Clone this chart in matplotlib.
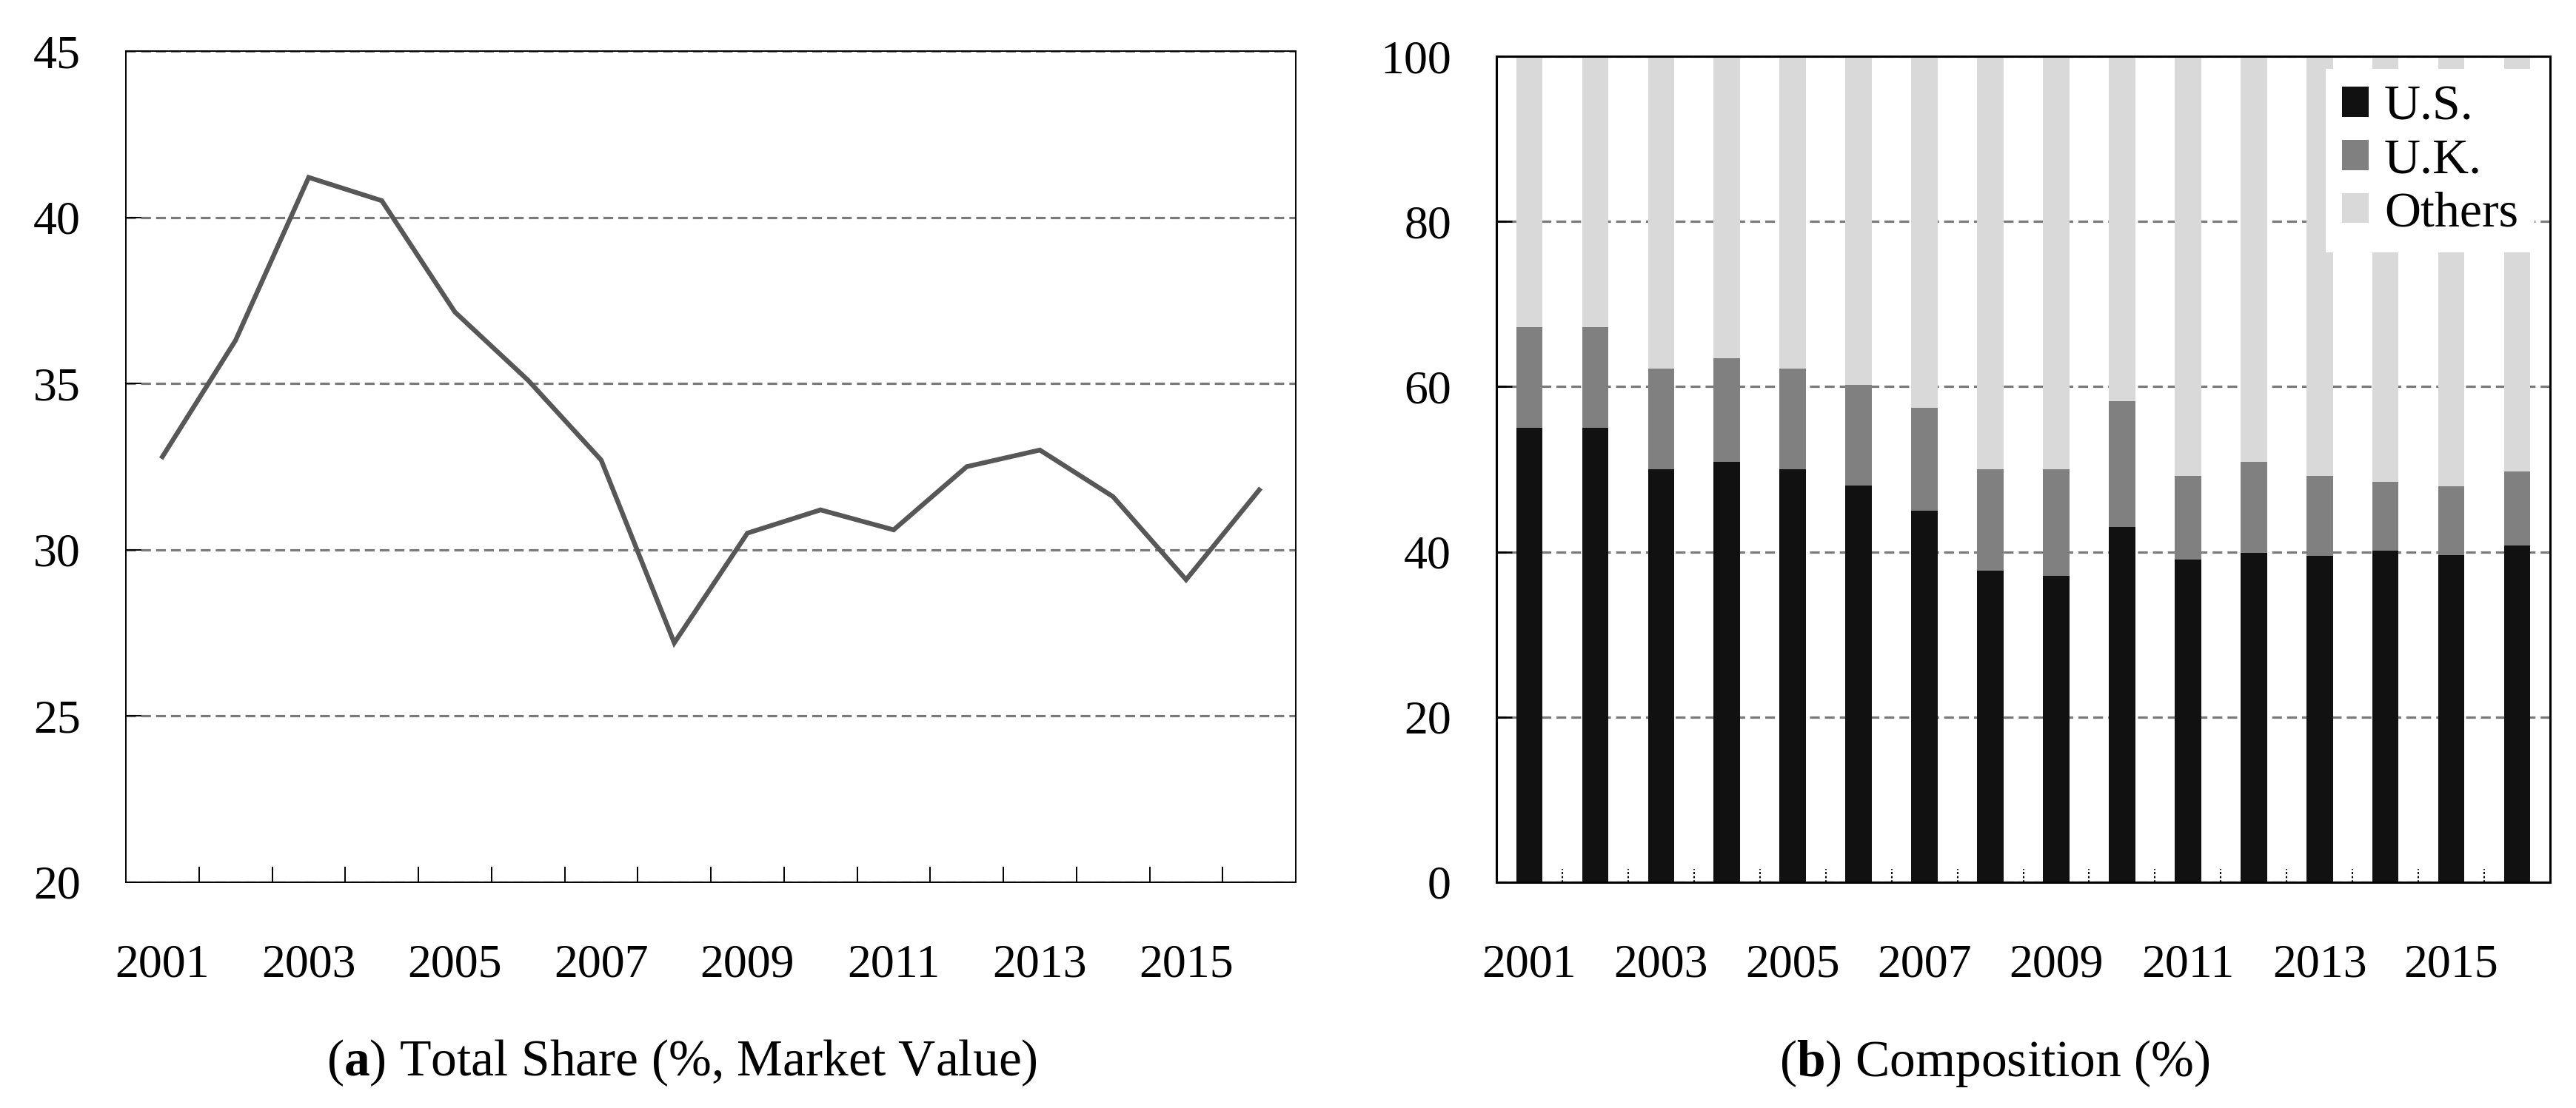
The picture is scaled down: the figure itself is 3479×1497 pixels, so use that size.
import numpy as np
import matplotlib.pyplot as plt

plt.rcParams['font.family'] = 'Liberation Serif'
plt.rcParams['mathtext.fontset'] = 'custom'
plt.rcParams['mathtext.rm'] = 'Liberation Serif'
plt.rcParams['mathtext.bf'] = 'Liberation Serif:bold'
plt.rcParams['lines.scale_dashes'] = False

# ---- data ----
years = np.arange(2001, 2017)
total_share = [32.8, 36.3, 41.2, 40.5, 37.15, 35.1, 32.7, 27.2,
               30.5, 31.2, 30.6, 32.5, 33.0, 31.6, 29.1, 31.8]
us_share = [55.0, 55.0, 50.0, 50.9, 50.0, 48.0, 45.0, 37.7,
            37.1, 43.0, 39.1, 39.9, 39.5, 40.1, 39.6, 40.75]
uk_share = [12.2, 12.2, 12.2, 12.5, 12.2, 12.2, 12.4, 12.3,
            12.9, 15.2, 10.1, 11.0, 9.7, 8.4, 8.3, 8.95]
others_share = [100 - u - k for u, k in zip(us_share, uk_share)]
label_years = years[::2]

fs = 46
grid_kw = dict(color='#7a7a7a', linestyle=(0, (9.5, 5)), linewidth=2.3)

fig = plt.figure(figsize=(34.8, 14.97), dpi=100)
ax1 = fig.add_axes([170/3480, 1 - 1192/1497, 1580/3480, 1123/1497])
ax2 = fig.add_axes([2021/3480, 1 - 1192/1497, 1423/3480, 1116/1497])

# ---- (a) total share line ----
ax1.plot(years, total_share, color='#575757', linewidth=4.6, solid_joinstyle='miter', zorder=3)
ax1.set_xlim(2000.5, 2016.5)
ax1.set_ylim(20, 45)
ax1.set_yticks(range(20, 46, 5))
ax1.set_xticks(label_years)
ax1.set_xticks(years[:-1] + 0.5, minor=True)
ax1.tick_params(axis='x', which='major', length=0, pad=60, labelsize=fs)
ax1.tick_params(axis='x', which='minor', direction='in', length=15, width=1.4)
ax1.tick_params(axis='y', direction='in', length=15, width=1.4, pad=44, labelsize=fs)
ax1.yaxis.grid(True, **grid_kw)
ax1.set_axisbelow(True)
for s in ax1.spines.values():
    s.set_linewidth(1.4)

# ---- (b) composition stacked bars ----
w = 0.4
ax2.bar(years, us_share, width=w, color='#111111', label='U.S.', zorder=2)
ax2.bar(years, uk_share, width=w, bottom=us_share, color='#808080', label='U.K.', zorder=2)
ax2.bar(years, others_share, width=w, bottom=np.add(us_share, uk_share),
        color='#d9d9d9', label='Others', zorder=2)
ax2.set_xlim(2000.5, 2016.5)
ax2.set_ylim(0, 100)
ax2.set_yticks(range(0, 101, 20))
ax2.set_xticks(label_years)
ax2.tick_params(axis='x', which='major', length=0, pad=60, labelsize=fs)
ax2.tick_params(axis='y', direction='in', length=15, width=2.0, pad=44, labelsize=fs)
ax2.yaxis.grid(True, **grid_kw)
ax2.set_axisbelow(True)
# small dotted separators between the bars
ax2.vlines(years[:-1] + 0.5, 0, 0.016, transform=ax2.get_xaxis_transform(),
           colors='black', linewidth=1.5, linestyle=(0, (2, 2)), zorder=3)
for s in ax2.spines.values():
    s.set_linewidth(2.2)

ax2.legend(loc='upper right', bbox_to_anchor=(0.985, 0.985), borderaxespad=0,
           frameon=True, facecolor='white', edgecolor='none', framealpha=1,
           fancybox=False, fontsize=49, handlelength=0.54, handleheight=0.54,
           handletextpad=0.3, labelspacing=0.16, borderpad=0.32)

# ---- captions ----
fig.text(921/3480, 0.029, r'($\mathbf{a}$) Total Share (%, Market Value)',
         ha='center', va='baseline', fontsize=50)
fig.text(2694/3480, 0.029, r'($\mathbf{b}$) Composition (%)',
         ha='center', va='baseline', fontsize=50)

fig.savefig('out.png', dpi=100)
